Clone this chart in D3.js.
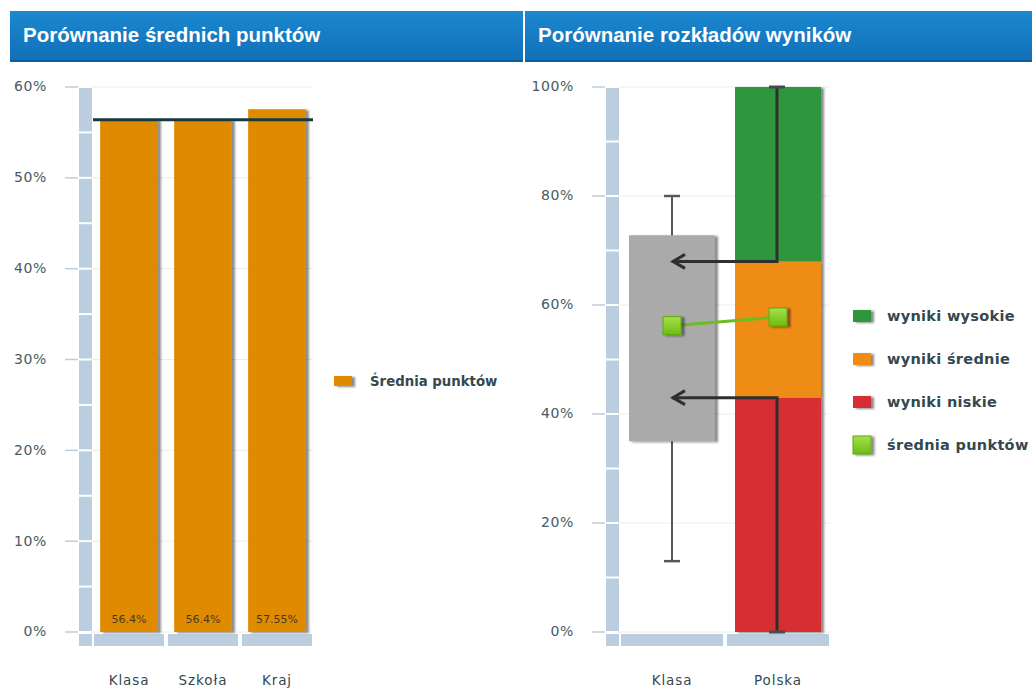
<!DOCTYPE html>
<html><head><meta charset="utf-8">
<script src="https://cdn.jsdelivr.net/npm/d3@7"></script>
<style>
html,body{margin:0;padding:0;background:#fff;}
svg{display:block;}
</style></head>
<body>
<svg id="c" width="1032" height="689"></svg>
<script>
// ---- data ----
const titles = ["Porównanie średnich punktów", "Porównanie rozkładów wyników"];
const leftCategories = ["Klasa", "Szkoła", "Kraj"];
const meanScores = [56.4, 56.4, 57.55];
const meanLabels = ["56.4%", "56.4%", "57.55%"];
const referenceLine = 56.4;
const leftTicks = [0, 10, 20, 30, 40, 50, 60];
const leftLegend = ["Średnia punktów"];

const rightCategories = ["Klasa", "Polska"];
const boxLow = [13], boxQ1 = [35], boxQ3 = [72.8], boxHigh = [80];
const levelNames = ["wyniki niskie", "wyniki średnie", "wyniki wysokie"];
const levelBounds = [0, 43, 68, 100];
const meanPoints = [56.2, 57.8];
const rightTicks = [0, 20, 40, 60, 80, 100];
const rightLegend = ["wyniki wysokie", "wyniki średnie", "wyniki niskie", "średnia punktów"];

const svg = d3.select("#c");
const defs = svg.append("defs");
const hg = defs.append("linearGradient").attr("id","hdr").attr("x1",0).attr("y1",0).attr("x2",0).attr("y2",1);
hg.append("stop").attr("offset","0%").attr("stop-color","#1b88cf");
hg.append("stop").attr("offset","100%").attr("stop-color","#116fb7");
const mg = defs.append("linearGradient").attr("id","mk").attr("x1",0).attr("y1",0).attr("x2",0).attr("y2",1);
mg.append("stop").attr("offset","0%").attr("stop-color","#a6e04a");
mg.append("stop").attr("offset","100%").attr("stop-color","#6bbd12");
const sh = defs.append("filter").attr("id","sh").attr("x","-20%").attr("y","-20%").attr("width","150%").attr("height","150%");
sh.append("feDropShadow").attr("dx",3).attr("dy",1).attr("stdDeviation",1.3).attr("flood-color","#000").attr("flood-opacity",0.45);

// headers
const headers = [[10, 513], [525, 507]];
headers.forEach((h, i) => {
  svg.append("rect").attr("x", h[0]).attr("y", 11).attr("width", h[1]).attr("height", 51).attr("fill", "url(#hdr)");
  svg.append("rect").attr("x", h[0]).attr("y", 60).attr("width", h[1]).attr("height", 2).attr("fill", "#0b5f9f");
  svg.append("text").attr("x", h[0] + 13).attr("y", 42).text(titles[i])
    .attr("fill", "#fff").attr("font-family", "Liberation Sans, Arial, sans-serif")
    .attr("font-weight", "bold").attr("font-size", 20.5);
});

const labelFont = "DejaVu Sans, Verdana, sans-serif";
const textCol = "#34484f";
const axisCol = "#bccddf";

function drawAxis(y, ticks, step, x0, plotRight, labelX, maxV, xScale) {
  svg.append("g").selectAll("line").data(ticks).join("line")
    .attr("x1", x0 + 13).attr("x2", plotRight).attr("y1", d => y(d)).attr("y2", d => y(d))
    .attr("stroke", "#ececec").attr("stroke-width", 1);
  svg.append("g").selectAll("line").data(ticks).join("line")
    .attr("x1", x0 - 13).attr("x2", x0).attr("y1", d => y(d)).attr("y2", d => y(d))
    .attr("stroke", axisCol).attr("stroke-width", 1.5);
  svg.append("g").selectAll("text").data(ticks).join("text")
    .attr("x", labelX).attr("y", d => y(d)).attr("dy", "0.32em")
    .attr("text-anchor", "end").attr("font-family", labelFont).attr("font-size", 14)
    .attr("letter-spacing", 0.6).attr("fill", "#4a5a5f").text(d => d + "%");
  const segs = d3.range(0, maxV, step);
  svg.append("g").selectAll("rect").data(segs).join("rect")
    .attr("x", x0 + 1).attr("width", 13)
    .attr("y", d => y(d + step) + 1).attr("height", d => y(d) - y(d + step) - 2)
    .attr("fill", axisCol);
  svg.append("rect").attr("x", x0 + 1).attr("y", y(0) + 2).attr("width", 13).attr("height", 12).attr("fill", axisCol);
  svg.append("g").selectAll("rect").data(xScale.domain()).join("rect")
    .attr("x", d => xScale(d) + 2).attr("width", xScale.bandwidth() - 4)
    .attr("y", y(0) + 2).attr("height", 12).attr("fill", axisCol);
}

// ---- left chart ----
const yL = d3.scaleLinear().domain([0, 60]).range([632, 87]);
const xL = d3.scaleBand().domain(leftCategories).range([92, 314]);
drawAxis(yL, leftTicks, 5, 78, 313, 47, 60, xL);
const bwL = xL.bandwidth() * 0.78;
svg.append("g").selectAll("rect").data(meanScores).join("rect")
  .attr("x", (d, i) => xL(leftCategories[i]) + (xL.bandwidth() - bwL) / 2)
  .attr("width", bwL).attr("y", d => yL(d)).attr("height", d => yL(0) - yL(d))
  .attr("fill", "#e08a00").attr("filter", "url(#sh)");
svg.append("g").selectAll("text").data(meanLabels).join("text")
  .attr("x", (d, i) => xL(leftCategories[i]) + xL.bandwidth() / 2).attr("y", 623)
  .attr("text-anchor", "middle").attr("font-family", labelFont).attr("font-size", 11)
  .attr("fill", "#4a3a20").text(d => d);
svg.append("line").attr("x1", xL.range()[0] + 1).attr("x2", 313)
  .attr("y1", yL(referenceLine)).attr("y2", yL(referenceLine))
  .attr("stroke", "#16393f").attr("stroke-width", 3);
svg.append("g").selectAll("text").data(leftCategories).join("text")
  .attr("x", d => xL(d) + xL.bandwidth() / 2).attr("y", 685)
  .attr("text-anchor", "middle").attr("font-family", labelFont).attr("font-size", 13.5)
  .attr("letter-spacing", 0.9).attr("fill", textCol).text(d => d);
// left legend
svg.append("rect").attr("x", 334).attr("y", 376).attr("width", 18).attr("height", 10)
  .attr("fill", "#e08a00").attr("filter", "url(#sh)");
svg.append("text").attr("x", 370).attr("y", 386).text(leftLegend[0])
  .attr("font-family", labelFont).attr("font-size", 13.3).attr("font-weight", "bold").attr("fill", textCol);

// ---- right chart ----
const yR = d3.scaleLinear().domain([0, 100]).range([632, 87]);
const xR = d3.scaleBand().domain(rightCategories).range([619, 831]);
drawAxis(yR, rightTicks, 10, 605, 830, 574, 100, xR);
const bwR = 86;
const cx = c => xR(c) + xR.bandwidth() / 2;

const kx = cx("Klasa");
svg.append("line").attr("x1", kx).attr("x2", kx).attr("y1", yR(boxHigh[0])).attr("y2", yR(boxLow[0]))
  .attr("stroke", "#595959").attr("stroke-width", 2);
[boxHigh[0], boxLow[0]].forEach(v => {
  svg.append("line").attr("x1", kx - 8).attr("x2", kx + 8).attr("y1", yR(v)).attr("y2", yR(v))
    .attr("stroke", "#595959").attr("stroke-width", 2.5);
});
svg.append("rect").attr("x", kx - bwR / 2).attr("width", bwR)
  .attr("y", yR(boxQ3[0])).attr("height", yR(boxQ1[0]) - yR(boxQ3[0]))
  .attr("fill", "#aaaaaa").attr("filter", "url(#sh)");

const levelColors = ["#d62e33", "#ef8c12", "#2e963c"];
const px = cx("Polska");
const stackG = svg.append("g").attr("filter", "url(#sh)");
stackG.selectAll("rect").data(levelNames).join("rect")
  .attr("x", px - bwR / 2).attr("width", bwR)
  .attr("y", (d, i) => yR(levelBounds[i + 1])).attr("height", (d, i) => yR(levelBounds[i]) - yR(levelBounds[i + 1]))
  .attr("fill", (d, i) => levelColors[i]);

const arrowCol = "#2f2f2f";
const lx = px - 1;
function arrow(fromV, toV) {
  const p = d3.path();
  p.moveTo(lx, yR(fromV)); p.lineTo(lx, yR(toV)); p.lineTo(kx, yR(toV));
  svg.append("path").attr("d", p.toString()).attr("fill", "none").attr("stroke", arrowCol).attr("stroke-width", 3);
  const a = d3.path();
  a.moveTo(kx + 13, yR(toV) - 7); a.lineTo(kx + 1, yR(toV)); a.lineTo(kx + 13, yR(toV) + 7);
  svg.append("path").attr("d", a.toString()).attr("fill", "none").attr("stroke", arrowCol).attr("stroke-width", 3);
}
arrow(levelBounds[3], levelBounds[2]);
arrow(levelBounds[0], levelBounds[1]);
[levelBounds[3], levelBounds[0]].forEach(v => {
  svg.append("line").attr("x1", lx - 8).attr("x2", lx + 8).attr("y1", yR(v)).attr("y2", yR(v))
    .attr("stroke", "#4a4a4a").attr("stroke-width", 3);
});

svg.append("path").datum(meanPoints)
  .attr("d", d3.line().x((d, i) => cx(rightCategories[i])).y(d => yR(d)))
  .attr("fill", "none").attr("stroke", "#6cbd22").attr("stroke-width", 3);
svg.append("g").selectAll("rect").data(meanPoints).join("rect")
  .attr("x", (d, i) => cx(rightCategories[i]) - 9).attr("y", d => yR(d) - 9)
  .attr("width", 18).attr("height", 18).attr("fill", "url(#mk)").attr("stroke", "#5fa80e").attr("stroke-width", 1)
  .attr("filter", "url(#sh)");

svg.append("g").selectAll("text").data(rightCategories).join("text")
  .attr("x", d => cx(d)).attr("y", 685)
  .attr("text-anchor", "middle").attr("font-family", labelFont).attr("font-size", 13.5)
  .attr("letter-spacing", 0.9).attr("fill", textCol).text(d => d);

const legColors = ["#2e963c", "#ef8c12", "#d62e33"];
const lg = svg.append("g");
rightLegend.forEach((name, i) => {
  const yy = 316 + i * 43;
  if (i < 3) {
    lg.append("rect").attr("x", 853).attr("y", yy - 6).attr("width", 18).attr("height", 12)
      .attr("fill", legColors[i]).attr("filter", "url(#sh)");
  } else {
    lg.append("rect").attr("x", 853).attr("y", yy - 9).attr("width", 18).attr("height", 18)
      .attr("fill", "url(#mk)").attr("stroke", "#5fa80e").attr("filter", "url(#sh)");
  }
  lg.append("text").attr("x", 887).attr("y", yy + 5).text(name)
    .attr("font-family", labelFont).attr("font-size", 14.5).attr("letter-spacing", 0.3)
    .attr("font-weight", "bold").attr("fill", textCol);
});
</script>
</body></html>
